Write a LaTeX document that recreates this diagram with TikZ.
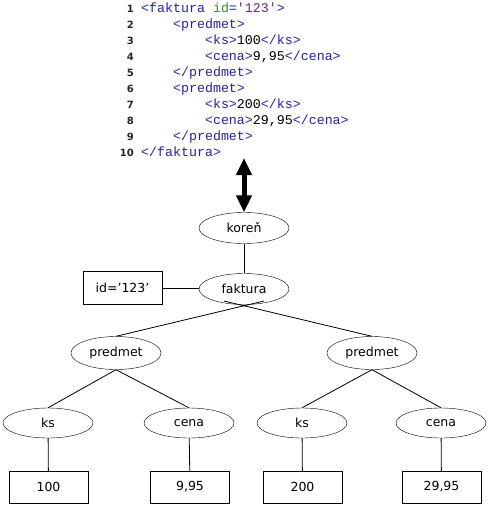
\documentclass[tikz,border=0pt]{standalone}
\usepackage{fontspec}
\setmainfont{DejaVu Sans}
\newfontfamily\codefont{Liberation Mono}
\newfontfamily\numfont{DejaVu Sans}
\usetikzlibrary{shapes.geometric,arrows.meta}
\definecolor{cb}{RGB}{35,35,170}
\definecolor{cg}{RGB}{50,140,50}
\definecolor{cp}{RGB}{110,40,110}
\tikzset{
  el/.style={draw,ellipse,minimum width=90pt,minimum height=31pt,inner sep=0pt,fill=white,font=\fontsize{12.5}{14}\selectfont},
  valbox/.style={draw,rectangle,minimum width=79pt,minimum height=32pt,inner sep=0pt,font=\fontsize{12.5}{14}\selectfont},
  code/.style={anchor=base west,inner sep=0pt,font=\codefont\fontsize{13.3}{16}\selectfont},
  lnum/.style={anchor=base east,inner sep=0pt,text=black!85,font=\numfont\bfseries\fontsize{10}{12}\selectfont},
  conn/.style={draw,line width=0.8pt}
}
\begin{document}
\begin{tikzpicture}[x=1pt,y=-1pt]
\useasboundingbox (0,0) rectangle (491,507);
% code listing
\foreach \i in {1,...,10} {
  \node[lnum] (n\i) at (134,{12+16*(\i-1)}) {\i};
}
\node[code] (c1) at (141,12) {\color{cb}<faktura \color{cg}id\color{cb}=\color{cp}'123'\color{cb}>};
\node[code] (c2) at (141,28) {\color{cb}\ \ \ \ <predmet>};
\node[code] (c3) at (141,44) {\color{cb}\ \ \ \ \ \ \ \ <ks>\color{black}100\color{cb}</ks>};
\node[code] (c4) at (141,60) {\color{cb}\ \ \ \ \ \ \ \ <cena>\color{black}9,95\color{cb}</cena>};
\node[code] (c5) at (141,76) {\color{cb}\ \ \ \ </predmet>};
\node[code] (c6) at (141,92) {\color{cb}\ \ \ \ <predmet>};
\node[code] (c7) at (141,108) {\color{cb}\ \ \ \ \ \ \ \ <ks>\color{black}200\color{cb}</ks>};
\node[code] (c8) at (141,124) {\color{cb}\ \ \ \ \ \ \ \ <cena>\color{black}29,95\color{cb}</cena>};
\node[code] (c9) at (141,140) {\color{cb}\ \ \ \ </predmet>};
\node[code] (c10) at (141,156) {\color{cb}</faktura>};

% tree
\node[el] (kor) at (244,228) {kore\v{n}};
\node[el] (fk) at (244,289) {faktura};
\node[valbox,minimum height=33pt] (idb) at (122.5,288) {id=’123’};
\node[el,minimum height=33pt] (pl) at (116,353) {predmet};
\node[el,minimum height=33pt] (pr) at (372,353) {predmet};
\node[el,minimum height=30pt] (ks1) at (48,423) {ks};
\node[el,minimum height=30pt] (ce1) at (189,423) {cena};
\node[el,minimum height=30pt] (ks2) at (302,423) {ks};
\node[el,minimum height=30pt] (ce2) at (441,423) {cena};
\node[valbox] (v1) at (48.5,487) {100};
\node[valbox] (v2) at (190,487) {9,95};
\node[valbox] (v3) at (302.5,487) {200};
\node[valbox] (v4) at (441.5,487) {29,95};

\coordinate (atop) at (244,158);
\coordinate (fkl) at (264,301);
\coordinate (fkr) at (224,301);

\draw[line width=5pt,{Triangle[length=17pt 0 0,width=15pt 0 0]}-{Triangle[length=17pt 0 0,width=15pt 0 0]}] (atop) -- (kor.north);
\draw[conn] (kor) -- (fk);
\draw[conn] (idb.east) -- (idb.east -| fk.west);
\draw[conn] (fkl) -- (pl.north);
\draw[conn] (fkr) -- (pr.north);
\draw[conn] (pl.south) -- (ks1.north);
\draw[conn] (pl.south) -- (ce1.north);
\draw[conn] (pr.south) -- (ks2.north);
\draw[conn] (pr.south) -- (ce2.north);
\draw[conn] (ks1) -- (v1);
\draw[conn] (ce1) -- (v2);
\draw[conn] (ks2) -- (v3);
\draw[conn] (ce2) -- (v4);
\end{tikzpicture}
\end{document}
